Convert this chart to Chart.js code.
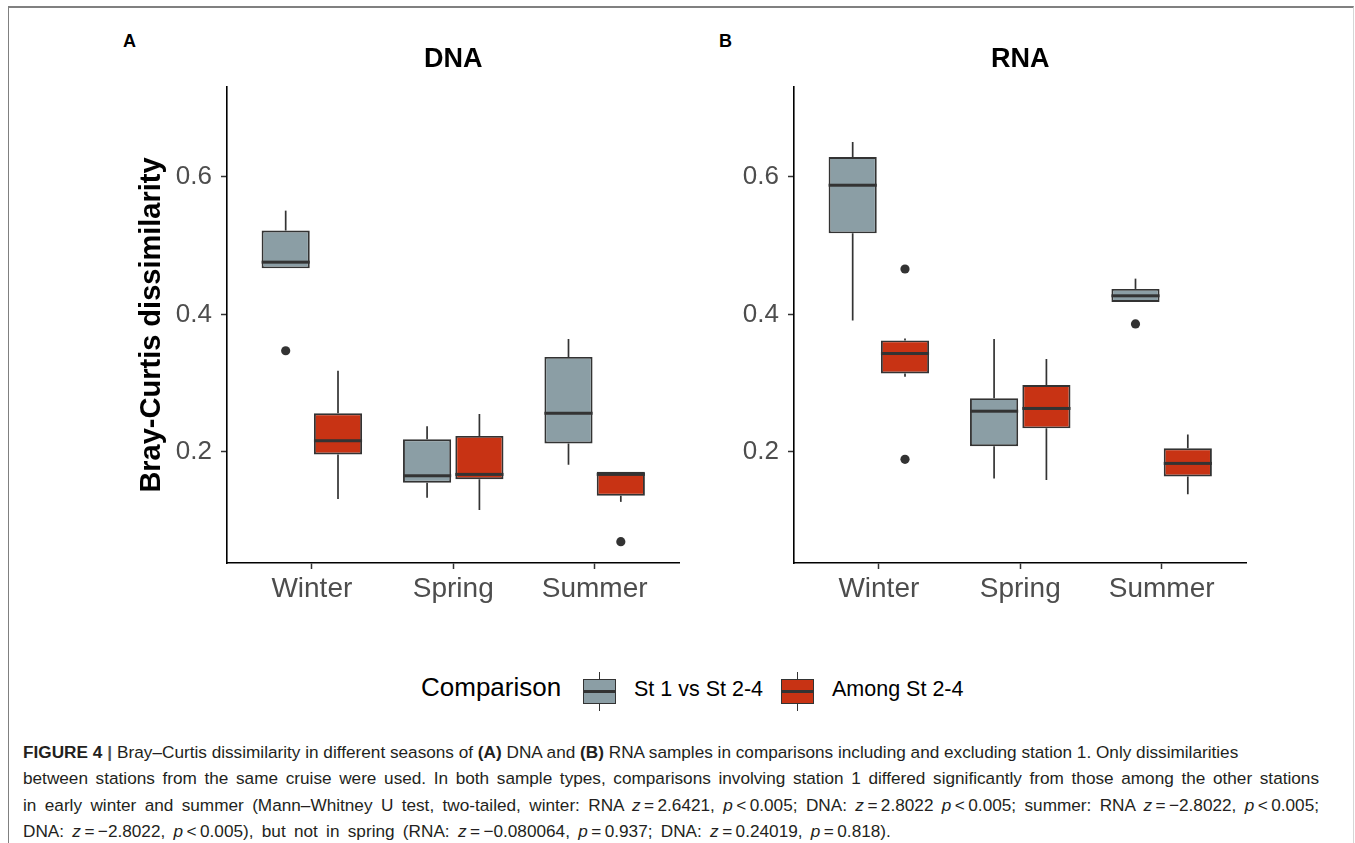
<!DOCTYPE html>
<html>
<head>
<meta charset="utf-8">
<script src="https://cdn.jsdelivr.net/npm/chart.js@4.4.1/dist/chart.umd.min.js"></script>
<style>
  html, body { margin: 0; padding: 0; background: #fff; }
  body { width: 1355px; height: 843px; position: relative; overflow: hidden; font-family: "Liberation Sans", Arial, sans-serif; }
  .frame { position: absolute; left: 8px; top: 6px; width: 1344px; height: 900px; border-top: 2px solid #808080; border-left: 1.5px solid #808080; border-right: 1px solid #d6d6d6; }
  canvas { position: absolute; top: 0; }
  #dnaChart { left: 130px; }
  #rnaChart { left: 740px; }
  .panel-tag { position: absolute; top: 31px; font-size: 18px; font-weight: bold; color: #000; }
  .legend { position: absolute; top: 0; left: 0; }
  .legend-title { position: absolute; left: 421px; top: 672px; font-size: 26px; color: #000; }
  .legend-label { position: absolute; top: 677px; font-size: 21.5px; color: #000; white-space: nowrap; }
  .key { position: absolute; top: 672px; width: 33px; height: 39px; }
  .key .box { position: absolute; left: 0; top: 7px; width: 33px; height: 25px; box-sizing: border-box; border: 1.8px solid #333; }
  .key .med { position: absolute; left: 0; top: 18.2px; width: 33px; height: 2.6px; background: #333; }
  .key .wh { position: absolute; left: 15.7px; width: 1.6px; height: 7px; background: #333; }
  .caption { position: absolute; left: 23px; top: 739px; width: 1296px; font-size: 17.2px; line-height: 26.3px; color: #231f20; white-space: nowrap; }
  .caption .full { text-align: justify; text-align-last: justify; word-spacing: 2px; }
  .caption .last { word-spacing: 3.5px; }
  .caption b { font-weight: bold; }
  .bar { color: #555; font-weight: bold; padding: 0 5px; }
</style>
</head>
<body>
<div class="frame"></div>
<div class="panel-tag" style="left:123px">A</div>
<div class="panel-tag" style="left:719px">B</div>
<canvas id="dnaChart" width="647" height="620"></canvas>
<canvas id="rnaChart" width="560" height="620"></canvas>

<div class="legend">
  <div class="legend-title">Comparison</div>
  <div class="key" style="left:583px"><div class="wh" style="top:0"></div><div class="box" style="background:#8b9ea5"></div><div class="med"></div><div class="wh" style="top:32px"></div></div>
  <div class="legend-label" style="left:634px">St 1 vs St 2-4</div>
  <div class="key" style="left:781px"><div class="wh" style="top:0"></div><div class="box" style="background:#c83314"></div><div class="med"></div><div class="wh" style="top:32px"></div></div>
  <div class="legend-label" style="left:832px">Among St 2-4</div>
</div>

<div class="caption">
  <div><b>FIGURE 4</b><span class="bar">|</span>Bray–Curtis dissimilarity in different seasons of <b>(A)</b> DNA and <b>(B)</b> RNA samples in comparisons including and excluding station 1. Only dissimilarities</div>
  <div class="full">between stations from the same cruise were used. In both sample types, comparisons involving station 1 differed significantly from those among the other stations</div>
  <div class="full">in early winter and summer (Mann–Whitney U test, two-tailed, winter: RNA <i>z</i>&thinsp;=&thinsp;2.6421, <i>p</i>&thinsp;&lt;&thinsp;0.005; DNA: <i>z</i>&thinsp;=&thinsp;2.8022 <i>p</i>&thinsp;&lt;&thinsp;0.005; summer: RNA <i>z</i>&thinsp;=&thinsp;−2.8022, <i>p</i>&thinsp;&lt;&thinsp;0.005;</div>
  <div class="last">DNA: <i>z</i>&thinsp;=&thinsp;−2.8022, <i>p</i>&thinsp;&lt;&thinsp;0.005), but not in spring (RNA: <i>z</i>&thinsp;=&thinsp;−0.080064, <i>p</i>&thinsp;=&thinsp;0.937; DNA: <i>z</i>&thinsp;=&thinsp;0.24019, <i>p</i>&thinsp;=&thinsp;0.818).</div>
</div>

<script>
// Categories and axis ticks
const seasons = ['Winter', 'Spring', 'Summer'];
const yTickValues = [0.2, 0.4, 0.6];
const yMin = 0.038;
const yMax = 0.731;

// Five-number summaries per season: [lower whisker, Q1, median, Q3, upper whisker]
const dnaSt1Boxes = [[0.467, 0.467, 0.476, 0.522, 0.551], [0.133, 0.155, 0.165, 0.218, 0.237], [0.181, 0.212, 0.256, 0.338, 0.364]];
const dnaAmongBoxes = [[0.131, 0.196, 0.216, 0.256, 0.318], [0.115, 0.160, 0.167, 0.223, 0.255], [0.127, 0.136, 0.167, 0.171, 0.171]];
const rnaSt1Boxes = [[0.391, 0.518, 0.588, 0.629, 0.651], [0.161, 0.208, 0.259, 0.278, 0.364], [0.418, 0.418, 0.427, 0.437, 0.452]];
const rnaAmongBoxes = [[0.309, 0.314, 0.343, 0.362, 0.365], [0.159, 0.234, 0.263, 0.297, 0.335], [0.138, 0.164, 0.183, 0.205, 0.225]];

// Outliers per season
const dnaSt1Outliers = [[0.347], [], []];
const dnaAmongOutliers = [[], [], [0.069]];
const rnaSt1Outliers = [[], [], [0.386]];
const rnaAmongOutliers = [[0.466, 0.189], [], []];

const st1Color = '#8b9ea5';
const amongColor = '#c83314';
const lineColor = '#333333';

Chart.defaults.font.family = '"Liberation Sans", Arial, sans-serif';

// Whiskers, medians and outlier points, placed on each box's bar element
const boxPlotPlugin = {
    id: 'boxPlot',
    beforeDatasetsDraw(chart) {
        const ctx = chart.ctx;
        const y = chart.scales.y;
        ctx.save();
        ctx.strokeStyle = lineColor;
        ctx.lineWidth = 1.7;
        chart.data.datasets.forEach((ds, di) => {
            chart.getDatasetMeta(di).data.forEach((el, i) => {
                const s = ds.stats[i];
                ctx.beginPath();
                ctx.moveTo(el.x, y.getPixelForValue(s[3]));
                ctx.lineTo(el.x, y.getPixelForValue(s[4]));
                ctx.moveTo(el.x, y.getPixelForValue(s[1]));
                ctx.lineTo(el.x, y.getPixelForValue(s[0]));
                ctx.stroke();
            });
        });
        ctx.restore();
    },
    afterDatasetsDraw(chart) {
        const ctx = chart.ctx;
        const y = chart.scales.y;
        ctx.save();
        chart.data.datasets.forEach((ds, di) => {
            chart.getDatasetMeta(di).data.forEach((el, i) => {
                const s = ds.stats[i];
                const half = el.width / 2;
                ctx.fillStyle = lineColor;
                ctx.fillRect(el.x - half, y.getPixelForValue(s[2]) - 1.5, el.width, 3);
                ds.outliers[i].forEach(v => {
                    ctx.beginPath();
                    ctx.arc(el.x, y.getPixelForValue(v), 4.6, 0, Math.PI * 2);
                    ctx.fill();
                });
            });
        });
        ctx.restore();
    }
};

function makeDataset(label, boxes, outliers, color) {
    return {
        label: label,
        data: boxes.map((b, i) => ({ x: i + 1, y: [b[1], b[3]] })),
        stats: boxes,
        outliers: outliers,
        backgroundColor: color,
        borderColor: lineColor,
        borderWidth: 1.9,
        borderSkipped: false,
        categoryPercentage: 0.74,
        barPercentage: 0.92
    };
}

function makeChart(canvasId, title, st1, st1Out, among, amongOut, opts) {
    const ctx = document.getElementById(canvasId).getContext('2d');
    return new Chart(ctx, {
        type: 'bar',
        data: {
            datasets: [
                makeDataset('St 1 vs St 2-4', st1, st1Out, st1Color),
                makeDataset('Among St 2-4', among, amongOut, amongColor)
            ]
        },
        options: {
            responsive: false,
            animation: false,
            layout: { padding: { left: 0, right: opts.padRight, top: 0, bottom: 0 } },
            plugins: {
                legend: { display: false },
                tooltip: { enabled: false },
                title: {
                    display: true,
                    text: title,
                    fullSize: false,
                    color: '#000',
                    font: { size: 27, weight: 'bold' },
                    padding: { top: 43, bottom: 11.6 }
                }
            },
            scales: {
                x: {
                    type: 'linear',
                    min: 0.4,
                    max: 3.6,
                    offset: false,
                    afterBuildTicks: s => { s.ticks = seasons.map((_, i) => ({ value: i + 1 })); },
                    afterFit: s => { s.height = 57; },
                    ticks: {
                        callback: v => seasons[v - 1],
                        color: '#4d4d4d',
                        font: { size: 28 },
                        padding: 3,
                        maxRotation: 0
                    },
                    grid: { drawOnChartArea: false, tickLength: 6, color: lineColor, tickWidth: 1.5, offset: false },
                    border: { display: true, color: '#000', width: 1.6 }
                },
                y: {
                    min: yMin,
                    max: yMax,
                    afterBuildTicks: s => { s.ticks = yTickValues.map(v => ({ value: v })); },
                    afterFit: s => { s.width = opts.axisWidth; },
                    ticks: {
                        callback: v => v.toFixed(1),
                        color: '#4d4d4d',
                        font: { size: 26 },
                        padding: 9
                    },
                    grid: { drawOnChartArea: false, tickLength: 6, color: lineColor, tickWidth: 1.5 },
                    border: { display: true, color: '#000', width: 1.6 },
                    title: {
                        display: opts.showYTitle,
                        text: 'Bray-Curtis dissimilarity',
                        color: '#000',
                        font: { size: 29, weight: 'bold' },
                        padding: { top: 5, bottom: 4 }
                    }
                }
            }
        },
        plugins: [boxPlotPlugin]
    });
}

makeChart('dnaChart', 'DNA', dnaSt1Boxes, dnaSt1Outliers, dnaAmongBoxes, dnaAmongOutliers,
    { padRight: 97.5, axisWidth: 97, showYTitle: true });
makeChart('rnaChart', 'RNA', rnaSt1Boxes, rnaSt1Outliers, rnaAmongBoxes, rnaAmongOutliers,
    { padRight: 53.5, axisWidth: 54, showYTitle: false });
</script>
</body>
</html>
